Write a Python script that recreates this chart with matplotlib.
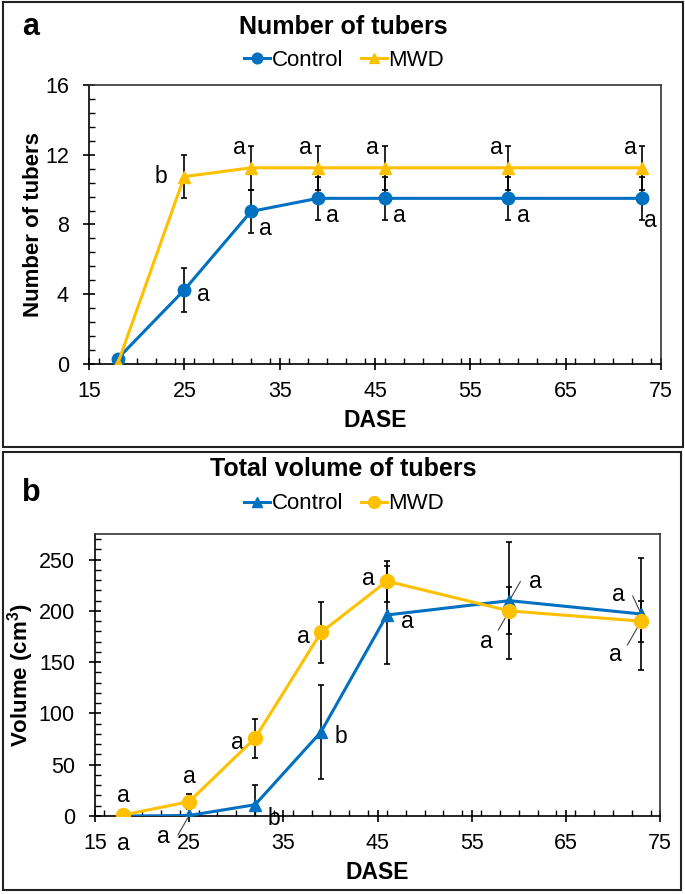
import matplotlib
matplotlib.use("Agg")
import matplotlib.pyplot as plt
from matplotlib.ticker import MultipleLocator
from matplotlib.patches import Rectangle

plt.rcParams['font.family'] = ['Liberation Sans', 'DejaVu Sans']
plt.rcParams['mathtext.fontset'] = 'custom'
plt.rcParams['mathtext.bf'] = 'Liberation Sans:bold'

BLUE = '#0070C0'
YELLOW = '#FFC000'

# ---------------- data ----------------
dase = [18, 25, 32, 39, 46, 59, 73]

# Panel a: number of tubers
num_control = [0.3, 4.25, 8.75, 9.5, 9.5, 9.5, 9.5]
num_control_err = [0.0, 1.25, 1.25, 1.25, 1.25, 1.25, 1.25]
num_mwd = [0.0, 10.75, 11.25, 11.25, 11.25, 11.25, 11.25]
num_mwd_err = [0.0, 1.25, 1.25, 1.25, 1.25, 1.25, 1.25]
num_control_letters = ['', 'a', 'a', 'a', 'a', 'a', 'a']
num_mwd_letters = ['', 'b', 'a', 'a', 'a', 'a', 'a']

# Panel b: total volume of tubers
vol_control = [0.0, 0.5, 11, 82, 196, 210, 197]
vol_control_err = [0.0, 0.5, 19, 46, 48, 57, 55]
vol_mwd = [1.0, 14, 76, 179, 229, 200, 190]
vol_mwd_err = [0.0, 7, 19, 30, 20, 23, 20]
vol_control_letters = ['a', 'a', 'b', 'b', 'a', 'a', 'a']
vol_mwd_letters = ['a', 'a', 'a', 'a', 'a', 'a', 'a']

xticks = [15, 25, 35, 45, 55, 65, 75]

# ---------------- figure ----------------
W, H = 685, 894
fig = plt.figure(figsize=(W / 100, H / 100), dpi=100)

# panel borders
fig.patches.append(Rectangle((3 / W, 1 - 447 / H), 680 / W, 445 / H, transform=fig.transFigure,
                             fill=False, lw=1.5, ec='#222222'))
fig.patches.append(Rectangle((3 / W, 1 - 890 / H), 678 / W, 438 / H, transform=fig.transFigure,
                             fill=False, lw=1.5, ec='#222222'))

axa = fig.add_axes([89 / W, 1 - 364 / H, (661 - 89) / W, (364 - 85) / H])
axb = fig.add_axes([95 / W, 1 - 816 / H, (660 - 95) / W, (816 - 534) / H])

TICK_FS = 15.5
LET_FS = 16.5
LAB_FS = 16


def style_axis(ax):
    ax.tick_params(axis='both', which='major', direction='inout', length=9, width=1.2,
                   labelsize=TICK_FS, colors='black')
    ax.tick_params(axis='x', which='major', pad=8)
    ax.tick_params(axis='y', which='major', pad=10)
    ax.tick_params(axis='both', which='minor', direction='in', length=4.5, width=1.0)
    for s in ax.spines.values():
        s.set_linewidth(1.2)
        s.set_color('black')
    ax.spines['top'].set_color('#333333')
    ax.spines['right'].set_color('#333333')
    ax.set_xlim(15, 75)
    ax.set_xticks(xticks)
    ax.xaxis.set_minor_locator(MultipleLocator(2))
    ax.set_xlabel('DASE', fontsize=16.5, fontweight='bold', labelpad=5)


ebkw = dict(ecolor='black', elinewidth=1.2, capsize=2.5, capthick=1.2, zorder=2)


def letter(ax, x, y, t, dx, dy, ha, leader=None):
    kw = dict(xytext=(dx, dy), textcoords='offset points', ha=ha, va='center',
              fontsize=LET_FS, annotation_clip=False)
    if leader is not None:
        kw['arrowprops'] = dict(arrowstyle='-', color='#444444', lw=0.8, shrinkA=4, shrinkB=2,
                                connectionstyle=f'angle,angleA=0,angleB={leader},rad=0')
    ax.annotate(t, (x, y), **kw)


# ----- panel a -----
axa.errorbar(dase, num_mwd, yerr=num_mwd_err, fmt='none', **ebkw)
axa.errorbar(dase, num_control, yerr=num_control_err, fmt='none', **ebkw)
la1, = axa.plot(dase, num_control, '-o', color=BLUE, lw=2.2, ms=9, zorder=3, label='Control')
la2, = axa.plot(dase, num_mwd, '-^', color=YELLOW, lw=2.2, ms=9, zorder=4, label='MWD')
style_axis(axa)
axa.set_ylim(0, 16)
axa.set_yticks([0, 4, 8, 12, 16])
axa.yaxis.set_minor_locator(MultipleLocator(0.8))
axa.set_ylabel('Number of tubers', fontsize=LAB_FS, fontweight='bold', labelpad=1)

for i, (x, y, e, t) in enumerate(zip(dase, num_mwd, num_mwd_err, num_mwd_letters)):
    if not t:
        continue
    if i == 1:
        letter(axa, x, y, t, -12, 0, 'right')
    else:
        letter(axa, x, y + e, t, -4, -1, 'right')
for i, (x, y, e, t) in enumerate(zip(dase, num_control, num_control_err, num_control_letters)):
    if not t:
        continue
    if i == 1:
        letter(axa, x, y, t, 9, -3, 'left')
    elif i == 6:
        letter(axa, x, y - e, t, 6, 0, 'center')
    else:
        letter(axa, x, y - 0.8 * e, t, 6, 0, 'left')

fig.legend(handles=[la1, la2], loc='center', bbox_to_anchor=(344 / W, 1 - 60 / H), ncol=2,
           frameon=False, fontsize=16, handlelength=1.2, handletextpad=0.05,
           columnspacing=0.8, borderaxespad=0.0, markerscale=0.85)
fig.text(343 / W, 1 - 27 / H, 'Number of tubers', ha='center', va='center',
         fontsize=18, fontweight='bold')
fig.text(22 / W, 1 - 27 / H, 'a', ha='left', va='center', fontsize=22, fontweight='bold')

# ----- panel b -----
axb.errorbar(dase, vol_mwd, yerr=vol_mwd_err, fmt='none', **ebkw)
axb.errorbar(dase, vol_control, yerr=vol_control_err, fmt='none', **ebkw)
lb1, = axb.plot(dase, vol_control, '-^', color=BLUE, lw=2.2, ms=8, zorder=3, label='Control')
lb2, = axb.plot(dase, vol_mwd, '-o', color=YELLOW, lw=2.2, ms=10, zorder=4, label='MWD')
style_axis(axb)
axb.set_ylim(0, 275)
axb.set_yticks([0, 50, 100, 150, 200, 250])
axb.yaxis.set_minor_locator(MultipleLocator(10))
axb.set_ylabel('Volume (cm$\\mathbf{^3}$)', fontsize=LAB_FS, fontweight='bold', labelpad=2)

# letter offsets (points) and leader-line angle (None = no leader)
mwd_off = [(0, 14, None), (0, 18, None), (-8, -3, None), (-8, -3, None), (-9, 2, None),
           (-12, -22, 60), (-14, -24, 60)]
ctl_off = [(0, -20, None), (-14, -15, 60), (9, -10, None), (10, -3, None), (10, -5, None),
           (14, 14, 60), (-12, 14, 115)]
for (x, y, t), (dx, dy, lead) in zip(zip(dase, vol_mwd, vol_mwd_letters), mwd_off):
    ha = 'center' if dx == 0 else ('left' if dx > 0 else 'right')
    letter(axb, x, y, t, dx, dy, ha, lead)
for (x, y, t), (dx, dy, lead) in zip(zip(dase, vol_control, vol_control_letters), ctl_off):
    ha = 'center' if dx == 0 else ('left' if dx > 0 else 'right')
    letter(axb, x, y, t, dx, dy, ha, lead)

fig.legend(handles=[lb1, lb2], loc='center', bbox_to_anchor=(344 / W, 1 - 504 / H), ncol=2,
           frameon=False, fontsize=16, handlelength=1.2, handletextpad=0.05,
           columnspacing=0.8, borderaxespad=0.0, markerscale=0.85)
fig.text(343 / W, 1 - 469 / H, 'Total volume of tubers', ha='center', va='center',
         fontsize=18, fontweight='bold')
fig.text(22 / W, 1 - 493 / H, 'b', ha='left', va='center', fontsize=22, fontweight='bold')

fig.savefig('out.png', dpi=100)
